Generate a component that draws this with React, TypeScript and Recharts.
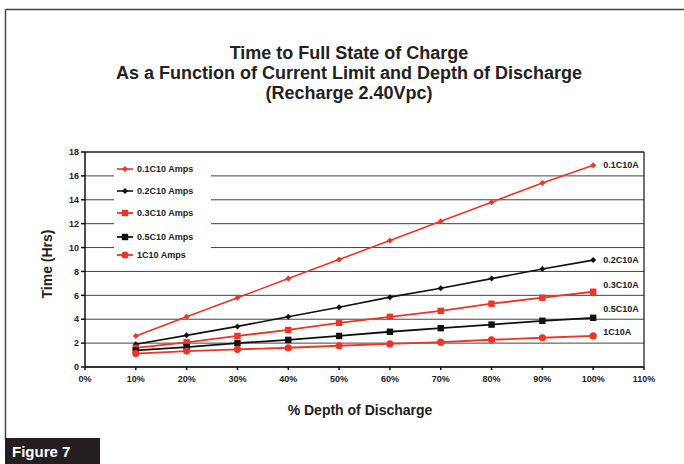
import React from 'react';
import { LineChart, Line, XAxis, YAxis, CartesianGrid, ReferenceLine } from 'recharts';

const depth = [10, 20, 30, 40, 50, 60, 70, 80, 90, 100];
const s01 = [2.6, 4.2, 5.8, 7.4, 9.0, 10.6, 12.2, 13.8, 15.4, 16.9];
const s02 = [1.9, 2.65, 3.4, 4.2, 5.0, 5.85, 6.6, 7.4, 8.2, 8.95];
const s03 = [1.6, 2.07, 2.6, 3.1, 3.7, 4.2, 4.7, 5.3, 5.8, 6.3];
const s05 = [1.4, 1.67, 2.0, 2.27, 2.6, 2.95, 3.25, 3.55, 3.87, 4.12];
const s1 = [1.12, 1.33, 1.48, 1.61, 1.78, 1.93, 2.08, 2.28, 2.45, 2.6];
const xTicks = [0, 10, 20, 30, 40, 50, 60, 70, 80, 90, 100, 110];
const yTicks = [0, 2, 4, 6, 8, 10, 12, 14, 16, 18];
const legendNames = ['0.1C10 Amps', '0.2C10 Amps', '0.3C10 Amps', '0.5C10 Amps', '1C10 Amps'];
const endLabels = ['0.1C10A', '0.2C10A', '0.3C10A', '0.5C10A', '1C10A'];

const data = depth.map((d, i) => ({ d, a: s01[i], b: s02[i], c: s03[i], e: s05[i], f: s1[i] }));

const RED = '#ee3424';
const BLACK = '#111';
const FONT = '"Liberation Sans", Arial, Helvetica, sans-serif';

type Shape = 'diamond' | 'square' | 'circle';

const marker = (shape: Shape, color: string, cx: number, cy: number, key?: any) => {
  if (shape === 'diamond') {
    const r = 3;
    return <path key={key} d={`M${cx},${cy - r}L${cx + r},${cy}L${cx},${cy + r}L${cx - r},${cy}Z`} fill={color} />;
  }
  if (shape === 'square') {
    return <rect key={key} x={cx - 3.2} y={cy - 3.2} width={6.4} height={6.4} fill={color} />;
  }
  return <circle key={key} cx={cx} cy={cy} r={3.6} fill={color} />;
};

const series = [
  { key: 'a', color: RED, shape: 'diamond' as Shape, width: 1.6, dy: 0 },
  { key: 'b', color: BLACK, shape: 'diamond' as Shape, width: 1.6, dy: 0 },
  { key: 'c', color: RED, shape: 'square' as Shape, width: 1.8, dy: -7 },
  { key: 'e', color: BLACK, shape: 'square' as Shape, width: 1.8, dy: -9 },
  { key: 'f', color: RED, shape: 'circle' as Shape, width: 1.8, dy: -4 },
];

const legendRows = [169, 191, 213, 237, 255];

const LegendBox = () => (
  <svg width={97} height={108} style={{ display: 'block' }}>
    <rect x={0} y={0} width={97} height={108} fill="#fff" />
    {series.map((s, i) => {
      const y = legendRows[i] - 158;
      return (
        <g key={s.key}>
          <line x1={3} x2={19} y1={y} y2={y} stroke={s.color} strokeWidth={s.width} />
          {marker(s.shape, s.color, 11, y)}
          <text x={23} y={y + 3.2} fontSize={9} fontWeight="bold" fontFamily={FONT} fill="#222">
            {legendNames[i]}
          </text>
        </g>
      );
    })}
  </svg>
);

export default function App() {
  return (
    <div style={{ position: 'absolute', left: 0, top: 0, width: 684, height: 464, background: '#fff', fontFamily: FONT }}>
      <svg width={684} height={464} style={{ position: 'absolute', left: 0, top: 0 }}>
        <line x1={5.5} y1={9.5} x2={684} y2={9.5} stroke="#444" strokeWidth={1.5} />
        <line x1={5.5} y1={9.5} x2={5.5} y2={440} stroke="#444" strokeWidth={1.5} />
        <rect x={5} y={438} width={95} height={26} fill="#231f20" />
        <text x={12} y={457} fill="#fff" fontSize={15} fontWeight="bold" fontFamily={FONT}>Figure 7</text>
        <text x={349} y={59} textAnchor="middle" fontSize={18} fontWeight="bold" fontFamily={FONT} fill="#222">Time to Full State of Charge</text>
        <text x={349} y={79} textAnchor="middle" fontSize={18} fontWeight="bold" fontFamily={FONT} fill="#222">As a Function of Current Limit and Depth of Discharge</text>
        <text x={349} y={99} textAnchor="middle" fontSize={18} fontWeight="bold" fontFamily={FONT} fill="#222">(Recharge 2.40Vpc)</text>
        <text x={52} y={264} textAnchor="middle" fontSize={14} fontWeight="bold" fontFamily={FONT} fill="#222" transform="rotate(-90 52 264)">Time (Hrs)</text>
        <text x={360} y={415} textAnchor="middle" fontSize={14} fontWeight="bold" fontFamily={FONT} fill="#222">% Depth of Discharge</text>
      </svg>
      <div style={{ position: 'absolute', left: 0, top: 0 }}>
        <LineChart width={684} height={464} data={data} margin={{ top: 152, right: 40, bottom: 67, left: 55 }}>
          <CartesianGrid horizontal vertical={false} stroke="#222" strokeWidth={1} strokeOpacity={0.85} />
          <XAxis
            dataKey="d"
            type="number"
            domain={[0, 110]}
            ticks={xTicks}
            tickFormatter={(v: number) => `${v}%`}
            height={30}
            stroke="#111"
            strokeWidth={1.5}
            tickSize={3}
            tickMargin={6}
            tick={{ fontSize: 9, fontWeight: 'bold', fill: '#222', fontFamily: FONT }}
            interval={0}
          />
          <YAxis
            type="number"
            domain={[0, 18]}
            ticks={yTicks}
            width={30}
            stroke="#111"
            strokeWidth={1.5}
            tickSize={4}
            tick={{ fontSize: 9, fontWeight: 'bold', fill: '#222', fontFamily: FONT }}
            interval={0}
          />
          <ReferenceLine x={110} stroke="#111" strokeWidth={1.2} />
          <ReferenceLine y={18} stroke="#111" strokeWidth={1.2} />
          {series.map((s, si) => (
            <Line
              key={s.key}
              dataKey={s.key}
              stroke={s.color}
              strokeWidth={s.width}
              isAnimationActive={false}
              dot={(p: any) => marker(s.shape, s.color, p.cx, p.cy, p.index)}
              activeDot={false}
              label={(p: any) =>
                p.index === depth.length - 1 ? (
                  <text key={p.index} x={p.x + 10} y={p.y + s.dy + 3.2} fontSize={9} fontWeight="bold" fontFamily={FONT} fill="#222">
                    {endLabels[si]}
                  </text>
                ) : (
                  <g key={p.index} />
                )
              }
            />
          ))}
        </LineChart>
      </div>
      <div style={{ position: 'absolute', left: 114, top: 158, width: 97, height: 108 }}>
        <LegendBox />
      </div>
    </div>
  );
}
